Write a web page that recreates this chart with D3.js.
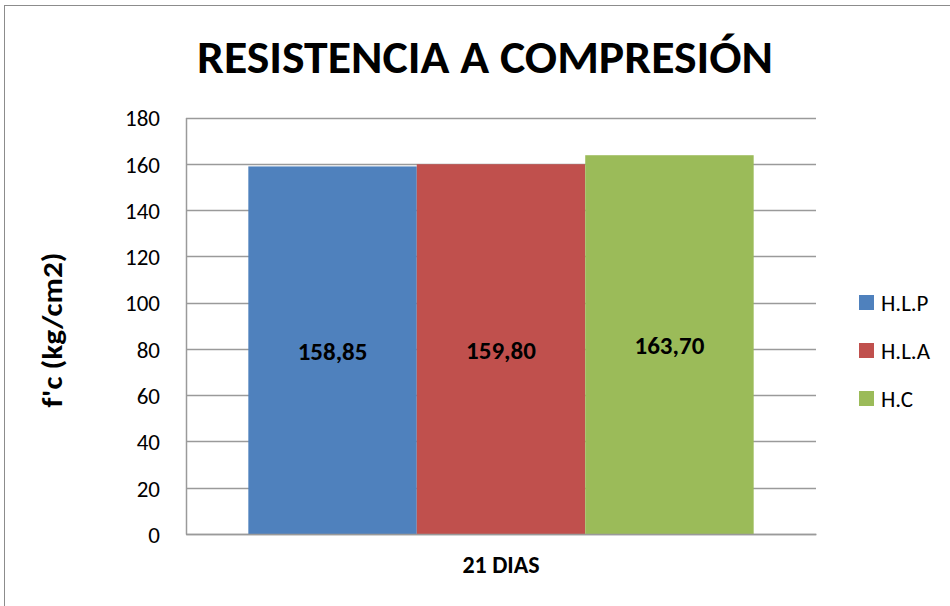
<!DOCTYPE html>
<html>
<head>
<meta charset="utf-8">
<script src="https://cdn.jsdelivr.net/npm/d3@7"></script>
<style>
  body { margin: 0; background: #fff; }
  svg { display: block; font-family: Carlito, Lato, "Open Sans", sans-serif; }
</style>
</head>
<body>
<svg id="chart" width="950" height="606"></svg>
<script>
const categories = ['21 DIAS'];
const seriesNames = ['H.L.P', 'H.L.A', 'H.C'];
const seriesValues = [158.85, 159.80, 163.70];
const valueLabels = ['158,85', '159,80', '163,70'];
const yTicks = [0, 20, 40, 60, 80, 100, 120, 140, 160, 180];
const colors = ['#4F81BD', '#C0504D', '#9BBB59'];

const FONT = 'Carlito, Lato, "Open Sans", sans-serif';
const svg = d3.select('#chart');

// outer frame
svg.append('rect')
  .attr('x', 4.5).attr('y', 5.5)
  .attr('width', 960).attr('height', 620)
  .attr('fill', 'none').attr('stroke', '#8c8c8c').attr('stroke-width', 1);

const plot = { left: 186, right: 816, top: 117.5, bottom: 534 };

const y = d3.scaleLinear().domain([0, 180]).range([plot.bottom, plot.top]);
const x0 = d3.scaleBand().domain(categories).range([plot.left, plot.right]);
const x1 = d3.scaleBand().domain(seriesNames)
  .range([0, x0.bandwidth()])
  .paddingInner(0).paddingOuter(0.37);

// gridlines
svg.append('g')
  .selectAll('line')
  .data(yTicks)
  .join('line')
  .attr('x1', plot.left).attr('x2', plot.right)
  .attr('y1', d => Math.round(y(d)) + 0.5).attr('y2', d => Math.round(y(d)) + 0.5)
  .attr('stroke', '#9a9a9a').attr('stroke-width', 1.3);

// bars
const bars = svg.append('g');
categories.forEach(cat => {
  seriesNames.forEach((s, i) => {
    bars.append('rect')
      .attr('x', x0(cat) + x1(s))
      .attr('y', y(seriesValues[i]))
      .attr('width', x1.bandwidth())
      .attr('height', y(0) - y(seriesValues[i]))
      .attr('fill', colors[i]);
    bars.append('text')
      .attr('x', x0(cat) + x1(s) + x1.bandwidth() / 2)
      .attr('y', y(seriesValues[i] / 2))
      .attr('dy', '0.38em')
      .attr('text-anchor', 'middle')
      .attr('font-size', 25).attr('font-weight', 'bold')
      .attr('fill', '#000')
      .text(valueLabels[i]);
  });
});

// axes
const yAxis = svg.append('g')
  .attr('transform', `translate(${plot.left},0)`)
  .call(d3.axisLeft(y).tickValues(yTicks).tickSize(0).tickPadding(26));
yAxis.select('.domain').attr('stroke', '#9a9a9a').attr('stroke-width', 1.5);
yAxis.selectAll('text').attr('font-size', 23).attr('fill', '#000')
  .attr('font-family', FONT).attr('dy', '0.36em');

const xAxis = svg.append('g')
  .attr('transform', `translate(0,${plot.bottom})`)
  .call(d3.axisBottom(x0).tickSize(0).tickPadding(22));
xAxis.select('.domain').attr('stroke', '#9a9a9a').attr('stroke-width', 1.5);
xAxis.selectAll('text').attr('font-size', 24).attr('font-weight', 'bold').attr('fill', '#000')
  .attr('font-family', FONT);

// title
svg.append('text')
  .attr('x', 485).attr('y', 73)
  .attr('text-anchor', 'middle')
  .attr('font-size', 47).attr('font-weight', 'bold')
  .attr('textLength', 576).attr('lengthAdjust', 'spacingAndGlyphs')
  .text('RESISTENCIA A COMPRESIÓN');

// y title
svg.append('text')
  .attr('transform', 'translate(62,330) rotate(-90)')
  .attr('text-anchor', 'middle')
  .attr('font-size', 29).attr('font-weight', 'bold')
  .attr('textLength', 155).attr('lengthAdjust', 'spacingAndGlyphs')
  .text("f'c (kg/cm2)");

// legend
const legend = svg.append('g').attr('transform', 'translate(859,302.5)');
seriesNames.forEach((s, i) => {
  const row = legend.append('g').attr('transform', `translate(0,${i * 48})`);
  row.append('rect').attr('x', 0).attr('y', -7.5).attr('width', 15).attr('height', 15).attr('fill', colors[i]);
  row.append('text').attr('x', 22).attr('y', 0).attr('dy', '0.36em')
    .attr('font-size', 23).attr('fill', '#000').text(s);
});
</script>
</body>
</html>
